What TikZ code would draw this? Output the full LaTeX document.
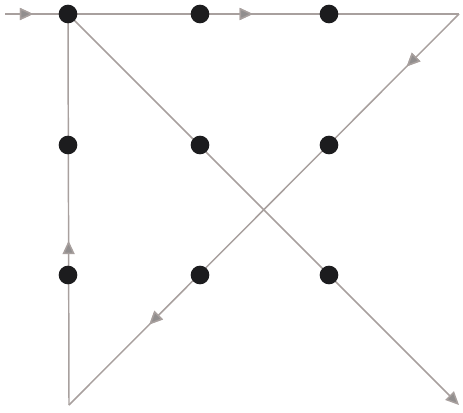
\documentclass[tikz,border=0pt]{standalone}
\usepackage{xcolor}
\usepackage{tikz}
\usetikzlibrary{arrows.meta, decorations.markings, backgrounds}
\definecolor{mydot}{RGB}{28,28,30}
\definecolor{myline}{RGB}{168,160,158}
\definecolor{mytip}{RGB}{145,142,142}
\tikzset{
  dot/.style={circle, fill=mydot, inner sep=0pt, minimum size=14},
  route/.style={draw=myline, line width=1.1pt},
  midtip/.style={postaction={decorate}, decoration={markings, mark=at position #1 with {\arrow{Triangle[length=10pt, width=9pt, fill=mytip]}}}},
  endtip/.style={-{Triangle[length=10pt, width=9pt, fill=mytip]}, draw=myline}
}

\begin{document}
\begin{tikzpicture}[x=0.75pt, y=-0.75pt]
  \useasboundingbox (0,0) rectangle (463,412);
  % nine dots
  \foreach \r/\y in {1/14, 2/145, 3/275} {
    \foreach \c/\x in {1/68, 2/200, 3/329} {
      \node [dot] (d\r\c) at (\x,\y) {};
    }
  }
  \coordinate (s) at (5,14);
  \coordinate (c1) at (459,14);
  \coordinate (c2) at (69,405);
  \coordinate (e) at (459,405);

  \begin{pgfonlayer}{background}
    \draw [route, midtip=0.062, midtip=0.546] (s) -- (c1);
    \draw [route, midtip=0.134, midtip=0.794] (c1) -- (c2);
    \draw [route, midtip=0.42] (c2) -- (d11.center);
    \draw [route, endtip] (d11.center) -- (e);
  \end{pgfonlayer}
\end{tikzpicture}
\end{document}
